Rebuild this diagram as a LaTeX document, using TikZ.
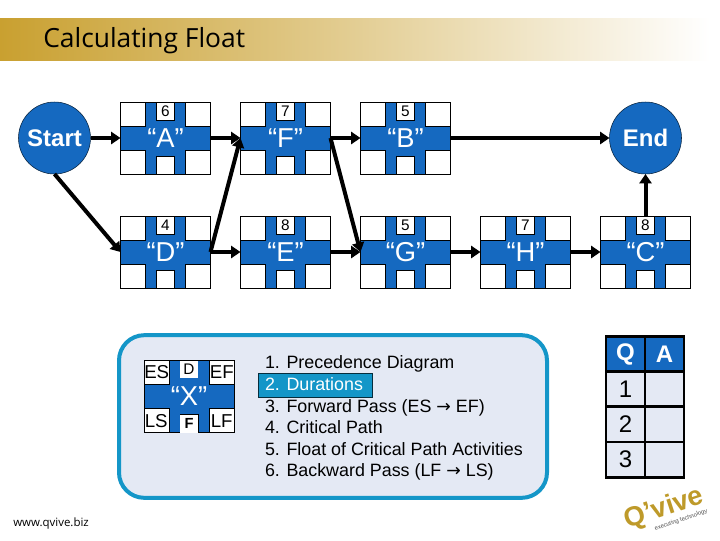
\documentclass[tikz,border=0pt]{standalone}
\usepackage{fontspec}
\setmainfont{Liberation Sans}
\newfontfamily\titlefont{Open Sans}
\newfontfamily\arrowfont{DejaVu Sans}
\usepackage{tikz}
\usetikzlibrary{arrows.meta,positioning,calc,shadings}
\definecolor{band}{HTML}{1569C0}
\definecolor{panel}{HTML}{E4E9F4}
\definecolor{rim}{HTML}{1496C8}
\definecolor{gold}{HTML}{C9A030}
\definecolor{logo}{HTML}{BE9A2A}
\tikzset{
  task/.style={draw=black,fill=band,outer sep=0pt,inner sep=0pt,line width=0.6pt,
    minimum width=67.5pt,minimum height=54pt,text=white,font=\fontsize{20.5}{20.5}\selectfont,
    path picture={
      \foreach \c/\dx/\dy in {north west/1/-1,north east/-1/-1,south west/1/1,south east/-1/1}
        \filldraw[fill=white,draw=black,line width=0.4pt] (path picture bounding box.\c) rectangle ++(\dx*18.75pt,\dy*18pt);
      \filldraw[fill=white,draw=black,line width=0.4pt] (path picture bounding box.south) ++(-6.75pt,0) rectangle ++(13.5pt,13.5pt);
    }},
  dur/.style={draw=black,line width=0.4pt,fill=white,inner sep=0pt,outer sep=0pt,anchor=north,
    minimum width=13.5pt,minimum height=13.5pt,font=\fontsize{11.5}{11.5}\selectfont},
  corner/.style={inner sep=0pt,minimum width=18pt,minimum height=17pt,font=\fontsize{14}{14}\selectfont},
  term/.style={circle,draw=black!70!band,fill=band,minimum size=54pt,inner sep=0pt,outer sep=0pt,
    text=white,font=\bfseries\fontsize{18}{18}\selectfont},
  arrow/.style={-{Triangle[length=7pt,width=9pt]},draw=black,line width=3pt},
  stepline/.style={inner sep=0pt,outer sep=0pt,text height=10pt,text depth=3pt,minimum height=16.2pt,
    anchor=north west,font=\fontsize{13.4}{13.4}\selectfont},
  cell/.style={draw=black,line width=2pt,outer sep=0pt,inner sep=0pt,minimum width=29.25pt,
    minimum height=26.4pt,fill=panel,font=\fontsize{18}{18}\selectfont},
  head/.style={cell,fill=band,text=white,font=\bfseries\fontsize{18}{18}\selectfont}
}
\begin{document}
\begin{tikzpicture}[x=0.75pt,y=-0.75pt,node distance=31.5pt and 22.5pt]
  \useasboundingbox (0,0) rectangle (720,540);
  % title bar
  \shade[left color=gold,right color=white,middle color=gold!52!white] (0,18) rectangle (710,60);
  \node[anchor=west,inner sep=0pt,font=\titlefont\fontsize{19.8}{19.8}\selectfont] (title) at (43,40.5) {Calculating Float};
  % network
  \node[task] (a) at (165.5,138) {“A”};
  \node[task,right=of a] (f) {“F”};
  \node[task,right=of f] (b) {“B”};
  \node[task,below=of a] (d) {“D”};
  \node[task,right=of d] (e) {“E”};
  \node[task,right=of e] (g) {“G”};
  \node[task,right=of g] (h) {“H”};
  \node[task,right=of h] (c) {“C”};
  \node[term,left=of a] (start) {Start};
  \node[term,above=of c] (end) {End};
  \foreach \n/\d in {a/6,f/7,b/5,d/4,e/8,g/5,h/7,c/8}
    \node[dur] (\n-dur) at (\n.north) {\d};
  \draw[arrow] (start)--(a);
  \draw[arrow] (start.south)--(d.west);
  \draw[arrow] (a)--(f);
  \draw[arrow] (f)--(b);
  \draw[arrow] (d.east)--(e);
  \draw[arrow] (d.east)--(f.west);
  \draw[arrow] (f.east)--(g.west);
  \draw[arrow] (e)--(g);
  \draw[arrow] (g)--(h);
  \draw[arrow] (h)--(c);
  \draw[arrow] (b)--(end);
  \draw[arrow] (c)--(end);
  % key panel
  \node[draw=rim,fill=panel,line width=3pt,rounded corners=19pt,minimum width=321pt,
    minimum height=122pt,outer sep=0pt] (panel) at (333,416.5) {};
  \node[task] (x) at (189,396.5) {“X”};
  \node[dur,draw=none,font=\fontsize{11.5}{11.5}\selectfont,minimum height=13pt] (x-d) at (x.north) {D};
  \node[dur,draw=none,anchor=south,font=\bfseries\fontsize{11}{11}\selectfont] (x-f) at (x.south) {F};
  \node[corner,anchor=north west] (x-es) at (x.north west) {ES};
  \node[corner,anchor=north east] (x-ef) at (x.north east) {EF};
  \node[corner,anchor=south west] (x-ls) at (x.south west) {LS};
  \node[corner,anchor=south east] (x-lf) at (x.south east) {LF};
  % steps
  \node[draw=black!70!rim,fill=rim,line width=0.5pt,minimum width=85.5pt,minimum height=18pt,outer sep=0pt] (hl) at (315,385) {};
  \node[stepline] (s1) at (265,353.5) {1. Precedence Diagram};
  \node[stepline,text=white] (s2) at (s1.south west) {2. Durations};
  \node[stepline] (s3) at (s2.south west) {3. Forward Pass (ES {\arrowfont\fontsize{13}{13}\selectfont →} EF)};
  \node[stepline] (s4) at (s3.south west) {4. Critical Path};
  \node[stepline] (s5) at (s4.south west) {5. Float of Critical Path Activities};
  \node[stepline] (s6) at (s5.south west) {6. Backward Pass (LF {\arrowfont\fontsize{13}{13}\selectfont →} LS)};
  % table
  \node[head] (qh) at (625.5,354) {Q};
  \node[head,right=0pt of qh] (ah) {A};
  \node[cell,below=0pt of qh] (q1) {1};
  \node[cell,right=0pt of q1] (a1) {};
  \node[cell,below=0pt of q1] (q2) {2};
  \node[cell,right=0pt of q2] (a2) {};
  \node[cell,below=0pt of q2] (q3) {3};
  \node[cell,right=0pt of q3] (a3) {};
  % footer
  \node[anchor=west,inner sep=0pt,font=\titlefont\fontsize{8.6}{8.6}\selectfont] (web) at (13,524) {www.qvive.biz};
  \node[rotate=18,inner sep=0pt,text=logo,font=\bfseries\fontsize{20.5}{20.5}\selectfont] (qlogo) at (664,509) {Q'vive};
  \node[rotate=19,inner sep=0pt,text=black!70,font=\fontsize{4.4}{4.4}\selectfont] (tagline) at (681,520) {executing technology};
\end{tikzpicture}
\end{document}
